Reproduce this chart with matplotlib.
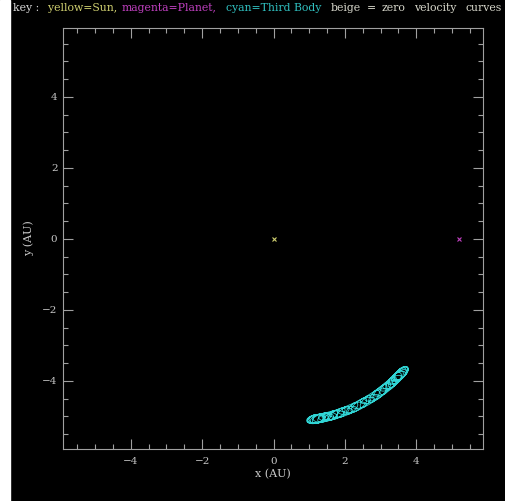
import numpy as np
import matplotlib
matplotlib.use("Agg")
import matplotlib.pyplot as plt
from matplotlib.ticker import MultipleLocator

# bodies (AU), rotating frame
sun_xy = (0.0, 0.0)
planet_xy = (5.2, 0.0)

# tadpole orbit of the third body
lib_mid_deg = -61.8      # middle of the libration arc
lib_amp_deg = 15.3       # half-width of the arc
r_mid = 5.26             # guiding radius at arc middle
r_drop = 0.05            # guiding radius drop at arc ends
epi_r = 0.12             # epicycle radial amplitude
epi_t = 0.24             # epicycle along-track amplitude
loops_per_lib = 12.4     # orbits per libration period
n_lib = 3                # libration periods drawn

# key words: text, colour, left pixel
key_words = [("key :", "#d8d8d8", 13),
             ("yellow=Sun,", "#d0d070", 48),
             ("magenta=Planet,", "#c040c0", 122),
             ("cyan=Third Body", "#30c0c0", 226),
             ("beige", "#d8d8cc", 331),
             ("=", "#d8d8cc", 367),
             ("zero", "#d8d8cc", 382),
             ("velocity", "#d8d8cc", 414),
             ("curves", "#d8d8cc", 466)]

xlim = (-5.9, 5.87)
ylim = (-5.92, 5.94)

# trajectory
t = np.linspace(0, 2 * np.pi * n_lib, 12000)
u = -np.cos(t)
th = np.radians(lib_mid_deg + lib_amp_deg * u)
r = r_mid - r_drop * u ** 2
m = loops_per_lib * t
dr = -epi_r * np.cos(m)
ds = epi_t * np.sin(m)
ox = (r + dr) * np.cos(th) - ds * np.sin(th)
oy = (r + dr) * np.sin(th) + ds * np.cos(th)

fg = "#c8c8c8"
fig = plt.figure(figsize=(5.06, 5.01), dpi=100, facecolor="black")
fig.patches.append(plt.Rectangle((0, 0), 10 / 506, 1, transform=fig.transFigure,
                                 color="white", zorder=0))
ax = fig.add_axes([63 / 506, 1 - 449 / 501, 420 / 506, 421 / 501])
ax.set_facecolor("black")

ax.plot(ox, oy, color="#30d4d4", lw=0.6)
ax.plot(*sun_xy, marker="x", color="#d0d070", ms=3, mew=0.8)
ax.plot(*planet_xy, marker="x", color="#c040c0", ms=3, mew=0.8)

ax.set_xlim(*xlim)
ax.set_ylim(*ylim)
ax.xaxis.set_major_locator(MultipleLocator(2))
ax.xaxis.set_minor_locator(MultipleLocator(0.5))
ax.yaxis.set_major_locator(MultipleLocator(2))
ax.yaxis.set_minor_locator(MultipleLocator(0.5))
ax.tick_params(which="both", direction="in", top=True, right=True, colors="#a0a0a0")
ax.tick_params(which="major", length=7, width=0.8, labelsize=7.5, labelcolor=fg)
ax.tick_params(which="minor", length=3.5, width=0.8)
ax.tick_params(axis="x", pad=6)
ax.tick_params(axis="y", pad=4)
for s in ax.spines.values():
    s.set_color("#a0a0a0")
    s.set_linewidth(0.8)
for lab in ax.get_xticklabels() + ax.get_yticklabels():
    lab.set_family("DejaVu Serif")

ax.set_xlabel("x (AU)", color=fg, fontsize=8, family="DejaVu Serif", labelpad=2)
ax.set_ylabel("y (AU)", color=fg, fontsize=8, family="DejaVu Serif", labelpad=6)

for txt, col, px in key_words:
    fig.text(px / 506, 1 - 8 / 501, txt, color=col, fontsize=7.8,
             family="DejaVu Serif", va="center", ha="left")

fig.savefig("out.png", dpi=100, facecolor="black")
